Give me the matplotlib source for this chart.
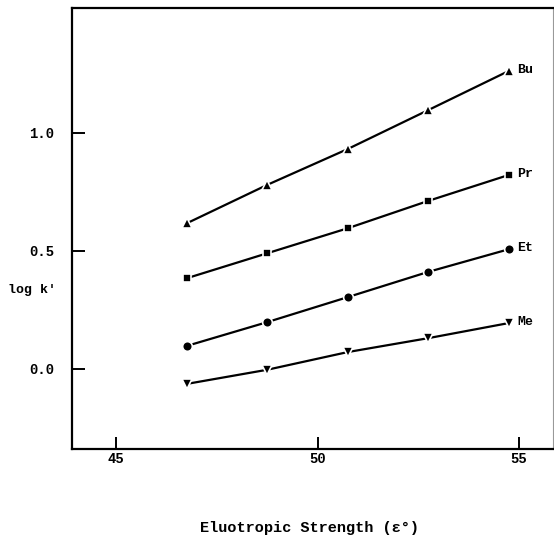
import matplotlib.pyplot as plt

plt.rcParams['font.family'] = ['Liberation Mono', 'DejaVu Sans Mono']
plt.rcParams['font.weight'] = 'bold'

# eluotropic strength of the mobile phases
strength = [46.75, 48.75, 50.75, 52.75, 54.75]

# log k' for each homologue
bu = [0.617, 0.780, 0.932, 1.097, 1.263]
pr = [0.384, 0.490, 0.596, 0.712, 0.822]
et = [0.097, 0.198, 0.304, 0.411, 0.507]
me = [-0.064, -0.004, 0.071, 0.130, 0.194]

series = [('Bu', bu, '^', 7.0), ('Pr', pr, 's', 6.0),
          ('Et', et, 'o', 7.0), ('Me', me, 'v', 7.0)]

xticks = [45, 50, 55]
yticks = [0.0, 0.5, 1.0]

fig = plt.figure(figsize=(5.54, 5.47), dpi=100)
ax = fig.add_axes([72 / 554, 98 / 547, 481 / 554, 441 / 547])

for name, vals, mk, ms in series:
    ax.plot(strength, vals, color='black', linewidth=1.6, marker=mk,
            markersize=ms, markerfacecolor='black', markeredgecolor='white',
            markeredgewidth=1.2)
    ax.annotate(name, (strength[-1], vals[-1]), xytext=(6, 1),
                textcoords='offset points', va='center', ha='left',
                fontsize=9.5, fontweight='bold')

ax.set_xlim(43.9, 55.85)
ax.set_ylim(-0.34, 1.53)
ax.set_xticks(xticks)
ax.set_xticklabels([str(t) for t in xticks])
ax.set_yticks(yticks)
ax.set_yticklabels(['%.1f' % t for t in yticks])
ax.tick_params(direction='in', length=9, width=1.4, labelsize=10)
ax.tick_params(axis='x', pad=2)
ax.tick_params(axis='y', pad=13)

for side in ['left', 'bottom', 'top']:
    ax.spines[side].set_linewidth(1.6)
ax.spines['right'].set_linewidth(0.8)
ax.spines['right'].set_color('#999999')

fig.text(8 / 554, 1 - 290 / 547, "log k'", fontsize=9.5, fontweight='bold',
         va='center', ha='left')
fig.text(310 / 554, 1 - 528 / 547, 'Eluotropic Strength (ε°)', fontsize=11,
         fontweight='bold', va='center', ha='center')

fig.savefig('out.png', dpi=100)
